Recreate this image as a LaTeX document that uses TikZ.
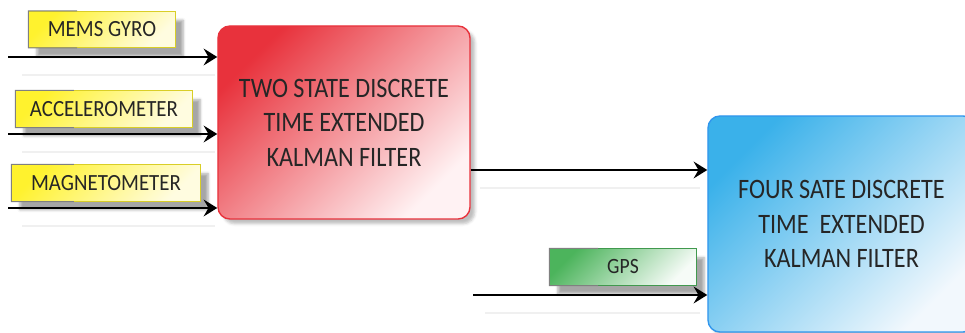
\documentclass[tikz,border=0pt]{standalone}
\usepackage{fontspec}
\setmainfont{Carlito}
\newfontfamily\tagfont[FakeStretch=0.9]{Carlito}
\newfontfamily\filterfont[FakeStretch=0.86]{Carlito}
\usepackage{tikz}
\usetikzlibrary{arrows.meta, calc, shadows.blur}

\definecolor{ekfred}{HTML}{E8323C}
\definecolor{ekfpink}{HTML}{FFF2F3}
\definecolor{ekfblue}{HTML}{3AB1EA}
\definecolor{ekfpale}{HTML}{F2F8FD}
\definecolor{sensyellow}{HTML}{FFF22E}
\definecolor{senspale}{HTML}{FFFCE0}
\definecolor{gpsgreen}{HTML}{4CB45C}

\tikzset{
	filter/.style 2 args = {rounded corners = 3mm, line width = .35mm,
		top color = #1, bottom color = #2, shading angle = 45,
		blur shadow = {shadow xshift = 1.2mm, shadow yshift = -1.2mm, shadow opacity = 25},
		align = center, text = black!85, font = \filterfont\fontsize{20}{24.5}\selectfont},
	sensor/.style 2 args = {draw = #1!85!black, line width = .25mm,
		top color = #1, bottom color = #2, shading angle = 45,
		minimum height = 9mm, inner sep = 0pt, text = black!85,
		blur shadow = {shadow xshift = 2mm, shadow yshift = -2.2mm, shadow opacity = 35},
		font = \tagfont\fontsize{16.5}{20}\selectfont},
	signal/.style = {line width = .5mm, arrows = {-Stealth[length = 3.4mm, width = 4.2mm, inset = 1.2mm]}},
	ghost/.style = {gray!12, line width = .3mm}
}

\begin{document}
\begin{tikzpicture}[x = 0.025cm, y = -0.025cm]
	\useasboundingbox (0, 0) rectangle (965, 333);

	% faint rules under the signal lines
	\draw[ghost] (22, 75) -- (215, 75);
	\draw[ghost] (22, 152) -- (215, 152);
	\draw[ghost] (22, 226) -- (215, 226);
	\draw[ghost] (480, 188) -- (700, 188);
	\draw[ghost] (485, 313) -- (700, 313);

	% sensor tags
	\node[sensor = {sensyellow}{senspale}, minimum width = 3.65cm] (gyro) at (102, 29.5) {MEMS GYRO};
	\node[sensor = {sensyellow}{senspale}, minimum width = 4.4cm] (accel) at (104, 109) {ACCELEROMETER};
	\node[sensor = {sensyellow}{senspale}, minimum width = 4.7cm] (magneto) at (106, 183) {MAGNETOMETER};
	\node[sensor = {gpsgreen}{gpsgreen!5}, font = \tagfont\fontsize{15.5}{19}\selectfont,
		minimum width = 3.65cm] (gps) at (623, 267) {GPS};

	% grey edge on the left third of each tag
	\foreach \tag in {gyro, accel, magneto, gps}
		\draw[gray, line width = .25mm] ($(\tag.north west)!.33!(\tag.north east)$)
			-| (\tag.south west) -- ($(\tag.south west)!.33!(\tag.south east)$);

	% the two filters
	\node[filter = {ekfred}{ekfpink}, draw = ekfred,
		minimum width = 6.3cm, minimum height = 4.825cm] (ekfTwo) at (344, 122.5)
		{TWO STATE DISCRETE\\TIME EXTENDED\\KALMAN FILTER};
	\node[filter = {ekfblue}{ekfpale}, draw = ekfblue!85!blue,
		minimum width = 6.675cm, minimum height = 5.4cm] (ekfFour) at (841.5, 224)
		{FOUR SATE DISCRETE\\TIME~~EXTENDED\\KALMAN FILTER};

	% free ends of the inputs
	\coordinate (inGyro) at (8, 57);
	\coordinate (inAccel) at (8, 134);
	\coordinate (inMagneto) at (8, 208);
	\coordinate (inGps) at (473, 295);

	\draw[signal] (inGyro) -- (inGyro -| ekfTwo.west);
	\draw[signal] (inAccel) -- (inAccel -| ekfTwo.west);
	\draw[signal] (inMagneto) -- (inMagneto -| ekfTwo.west);
	\draw[signal] (ekfTwo.east |- 0, 170) -- (ekfFour.west |- 0, 170);
	\draw[signal] (inGps) -- (inGps -| ekfFour.west);
\end{tikzpicture}
\end{document}
